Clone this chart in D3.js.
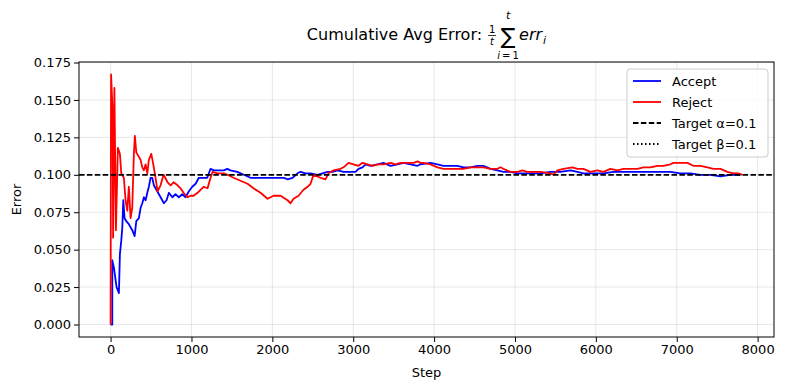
<!DOCTYPE html>
<html>
<head>
<meta charset="utf-8">
<script src="https://cdn.jsdelivr.net/npm/d3@7"></script>
<style>
    body { margin: 0; background: #fff; }
    svg { font-family: "DejaVu Sans", sans-serif; }
</style>
</head>
<body>
<div id="chart"></div>
<script>

// cumulative average error (step, error)
let acceptStep = [0, 21, 21, 41, 74, 103, 115, 132, 145, 157, 173, 194, 226, 268, 297, 318, 350, 371, 392, 412,
    433, 454, 473, 494, 515, 535, 577, 618, 659, 692, 721, 763, 803, 844, 886, 927, 968, 1010, 1051, 1091,
    1133, 1195, 1236, 1277, 1339, 1400, 1442, 1483, 1566, 1648, 1730, 1813, 1895, 1978, 2060, 2142, 2188, 2250, 2311, 2348,
    2410, 2472, 2559, 2620, 2682, 2744, 2806, 2880, 2966, 3028, 3065, 3115, 3152, 3214, 3300, 3374, 3461, 3547, 3621, 3708,
    3795, 3832, 3955, 4042, 4116, 4202, 4289, 4363, 4450, 4536, 4610, 4697, 4783, 4857, 4944, 5031, 5105, 5191, 5315, 5438,
    5562, 5686, 5772, 5846, 5970, 6093, 6217, 6341, 6427, 6551, 6674, 6798, 6922, 7045, 7169, 7292, 7416, 7540, 7663, 7787];
let acceptErr = [0, 0, 0.043, 0.038, 0.025, 0.021, 0.047, 0.056, 0.065, 0.083, 0.071, 0.069, 0.067, 0.063, 0.059, 0.069, 0.071, 0.078, 0.081, 0.085,
    0.083, 0.088, 0.092, 0.098, 0.098, 0.093, 0.089, 0.085, 0.081, 0.083, 0.088, 0.085, 0.087, 0.085, 0.087, 0.085, 0.089, 0.092, 0.094, 0.098,
    0.098, 0.098, 0.104, 0.103, 0.103, 0.103, 0.104, 0.103, 0.102, 0.100, 0.098, 0.098, 0.098, 0.098, 0.098, 0.098, 0.097, 0.098, 0.101, 0.102,
    0.101, 0.101, 0.100, 0.101, 0.102, 0.102, 0.103, 0.102, 0.102, 0.102, 0.104, 0.105, 0.107, 0.106, 0.107, 0.108, 0.106, 0.107, 0.108, 0.107,
    0.106, 0.107, 0.108, 0.107, 0.106, 0.106, 0.106, 0.105, 0.105, 0.106, 0.106, 0.104, 0.103, 0.102, 0.102, 0.101, 0.101, 0.101, 0.101, 0.102,
    0.102, 0.103, 0.102, 0.101, 0.101, 0.101, 0.102, 0.102, 0.102, 0.102, 0.102, 0.102, 0.102, 0.101, 0.101, 0.100, 0.100, 0.099, 0.100, 0.100];

let rejectStep = [0, 6, 25, 31, 47, 66, 90, 115, 132, 164, 185, 206, 226, 247, 268, 288, 300, 318, 350, 371,
    392, 412, 433, 454, 473, 503, 528, 556, 581, 618, 655, 705, 742, 779, 828, 865, 902, 952, 989, 1026,
    1075, 1112, 1150, 1199, 1236, 1261, 1323, 1397, 1446, 1520, 1607, 1693, 1767, 1854, 1940, 1978, 2015, 2101, 2188, 2225,
    2262, 2324, 2385, 2435, 2472, 2509, 2596, 2657, 2694, 2756, 2843, 2880, 2942, 3003, 3065, 3115, 3177, 3238, 3300, 3374,
    3461, 3523, 3584, 3671, 3745, 3795, 3832, 3869, 3955, 4042, 4116, 4202, 4289, 4363, 4450, 4536, 4610, 4697, 4783, 4820,
    4857, 4944, 5031, 5092, 5154, 5191, 5315, 5438, 5475, 5525, 5599, 5710, 5772, 5846, 5933, 6019, 6093, 6180, 6267, 6341,
    6427, 6514, 6588, 6674, 6761, 6835, 6922, 6959, 7045, 7132, 7206, 7292, 7379, 7453, 7540, 7626, 7700, 7762, 7812];
let rejectErr = [0, 0.167, 0.143, 0.058, 0.158, 0.063, 0.118, 0.114, 0.101, 0.098, 0.083, 0.076, 0.092, 0.071, 0.078, 0.114, 0.126, 0.115, 0.112, 0.110,
    0.105, 0.103, 0.107, 0.101, 0.110, 0.114, 0.107, 0.098, 0.089, 0.093, 0.100, 0.095, 0.093, 0.095, 0.093, 0.091, 0.088, 0.085, 0.086, 0.086,
    0.088, 0.090, 0.092, 0.091, 0.098, 0.102, 0.101, 0.101, 0.100, 0.098, 0.096, 0.094, 0.091, 0.088, 0.084, 0.085, 0.086, 0.086, 0.083, 0.081,
    0.084, 0.086, 0.090, 0.092, 0.094, 0.100, 0.098, 0.097, 0.101, 0.103, 0.104, 0.105, 0.108, 0.107, 0.106, 0.108, 0.107, 0.106, 0.107, 0.107,
    0.108, 0.107, 0.108, 0.108, 0.108, 0.109, 0.108, 0.108, 0.107, 0.105, 0.104, 0.104, 0.104, 0.104, 0.105, 0.105, 0.105, 0.104, 0.104, 0.105,
    0.104, 0.102, 0.102, 0.103, 0.102, 0.102, 0.102, 0.101, 0.100, 0.103, 0.104, 0.105, 0.104, 0.104, 0.102, 0.103, 0.102, 0.104, 0.103, 0.104,
    0.104, 0.104, 0.105, 0.105, 0.106, 0.106, 0.107, 0.108, 0.108, 0.108, 0.106, 0.106, 0.105, 0.104, 0.104, 0.102, 0.101, 0.101, 0.100];

let targetAlpha = 0.1;
let targetBeta = 0.1;

let xTicks = [0, 1000, 2000, 3000, 4000, 5000, 6000, 7000, 8000];
let yTicks = [0, 0.025, 0.05, 0.075, 0.1, 0.125, 0.15, 0.175];

let legendItems = [
    {label: "Accept", color: "blue", dash: null},
    {label: "Reject", color: "red", dash: null},
    {label: "Target \u03b1=0.1", color: "black", dash: "5.5,2.4"},
    {label: "Target \u03b2=0.1", color: "black", dash: "1.5,2.5"}
];

let accept = acceptStep.map((s, i) => ({step: s, err: acceptErr[i]}));
let reject = rejectStep.map((s, i) => ({step: s, err: rejectErr[i]}));

let totalW = 788, totalH = 390;
let margin = {top: 62, right: 14, bottom: 53, left: 79};
let width = totalW - margin.left - margin.right;
let height = totalH - margin.top - margin.bottom;

let svg = d3.select("#chart").append("svg")
    .attr("width", totalW)
    .attr("height", totalH);

let g = svg.append("g")
    .attr("transform", "translate(" + margin.left + "," + margin.top + ")");

// matplotlib style 5% padding on both axes
let xMax = d3.max(acceptStep.concat(rejectStep));
let yMax = d3.max(acceptErr.concat(rejectErr));

let x = d3.scaleLinear()
    .domain([-0.05 * xMax, 1.05 * xMax])
    .range([0, width]);

let y = d3.scaleLinear()
    .domain([-0.05 * yMax, 1.05 * yMax])
    .range([height, 0]);

// grid
g.append("g").selectAll("line").data(xTicks).enter().append("line")
    .attr("x1", d => x(d)).attr("x2", d => x(d))
    .attr("y1", 0).attr("y2", height)
    .attr("stroke", "#b0b0b0").attr("stroke-opacity", 0.3).attr("stroke-width", 1);

g.append("g").selectAll("line").data(yTicks).enter().append("line")
    .attr("x1", 0).attr("x2", width)
    .attr("y1", d => y(d)).attr("y2", d => y(d))
    .attr("stroke", "#b0b0b0").attr("stroke-opacity", 0.3).attr("stroke-width", 1);

// lines
let line = d3.line()
    .x(d => x(d.step))
    .y(d => y(d.err));

g.append("path").datum(accept)
    .attr("fill", "none").attr("stroke", "blue").attr("stroke-width", 1.8)
    .attr("stroke-linejoin", "round")
    .attr("d", line);

g.append("path").datum(reject)
    .attr("fill", "none").attr("stroke", "red").attr("stroke-width", 1.8)
    .attr("stroke-linejoin", "round")
    .attr("d", line);

// target line
g.append("line")
    .attr("x1", 0).attr("x2", width)
    .attr("y1", y(targetAlpha)).attr("y2", y(targetAlpha))
    .attr("stroke", "black").attr("stroke-width", 1.8)
    .attr("stroke-dasharray", "5.5,2.4");

// axes
let xAxis = d3.axisBottom(x).tickValues(xTicks).tickFormat(d3.format("d")).tickSizeOuter(0).tickSize(5).tickPadding(3);
let yAxis = d3.axisLeft(y).tickValues(yTicks).tickFormat(d3.format(".3f")).tickSizeOuter(0).tickSize(5).tickPadding(3);

let gx = g.append("g").attr("transform", "translate(0," + height + ")").call(xAxis);
let gy = g.append("g").call(yAxis);

[gx, gy].forEach(a => {
    a.select(".domain").remove();
    a.selectAll("text").attr("font-size", 13).attr("font-family", "DejaVu Sans").attr("fill", "black");
    a.selectAll("line").attr("stroke", "black").attr("stroke-width", 1);
});

// frame
g.append("rect")
    .attr("x", 0).attr("y", 0)
    .attr("width", width).attr("height", height)
    .attr("fill", "none").attr("stroke", "black").attr("stroke-width", 1);

// axis labels
svg.append("text")
    .attr("x", margin.left + width / 2).attr("y", 377)
    .attr("text-anchor", "middle").attr("font-size", 13)
    .text("Step");

svg.append("text")
    .attr("transform", "translate(21," + (margin.top + height / 2) + ") rotate(-90)")
    .attr("text-anchor", "middle").attr("font-size", 13)
    .text("Error");

// title with the summation formula
let title = svg.append("g");
let titleMain = title.append("text")
    .attr("x", 0).attr("y", 40).attr("font-size", 16)
    .text("Cumulative Avg Error:");
let tx = titleMain.node().getComputedTextLength() + 6;

title.append("text").attr("x", tx + 4).attr("y", 33).attr("font-size", 10)
    .attr("text-anchor", "middle").text("1");
title.append("line").attr("x1", tx).attr("x2", tx + 8)
    .attr("y1", 35.5).attr("y2", 35.5).attr("stroke", "black").attr("stroke-width", 0.8);
title.append("text").attr("x", tx + 4).attr("y", 45).attr("font-size", 10)
    .attr("font-style", "italic").attr("text-anchor", "middle").text("t");

let sx = tx + 20;
title.append("text").attr("x", sx).attr("y", 44).attr("font-size", 22)
    .attr("text-anchor", "middle").text("\u2211");
title.append("text").attr("x", sx).attr("y", 19).attr("font-size", 11)
    .attr("font-style", "italic").attr("text-anchor", "middle").text("t");
let sub = title.append("text").attr("x", sx).attr("y", 59).attr("font-size", 10)
    .attr("text-anchor", "middle");
sub.append("tspan").attr("font-style", "italic").text("i");
sub.append("tspan").text("\u2009=\u20091");

let err = title.append("text").attr("x", sx + 11).attr("y", 40).attr("font-size", 16)
    .attr("font-style", "italic").text("err");
let ex = sx + 11 + err.node().getComputedTextLength();
title.append("text").attr("x", ex + 1).attr("y", 44).attr("font-size", 11)
    .attr("font-style", "italic").text("i");

let tw = title.node().getBBox();
title.attr("transform", "translate(" + (margin.left + width / 2 - tw.width / 2 - tw.x) + ",0)");

// legend
let legend = svg.append("g").attr("transform", "translate(627,69)");
legend.append("rect")
    .attr("width", 141).attr("height", 88).attr("rx", 3)
    .attr("fill", "white").attr("fill-opacity", 0.8)
    .attr("stroke", "#cccccc").attr("stroke-width", 1);

let li = legend.selectAll(".item").data(legendItems).enter().append("g")
    .attr("class", "item")
    .attr("transform", (d, i) => "translate(0," + (12 + i * 21) + ")");

li.append("line")
    .attr("x1", 6).attr("x2", 34).attr("y1", 0).attr("y2", 0)
    .attr("stroke", d => d.color).attr("stroke-width", 1.8)
    .attr("stroke-dasharray", d => d.dash);

li.append("text")
    .attr("x", 45).attr("y", 5).attr("font-size", 13)
    .text(d => d.label);

</script>
</body>
</html>
